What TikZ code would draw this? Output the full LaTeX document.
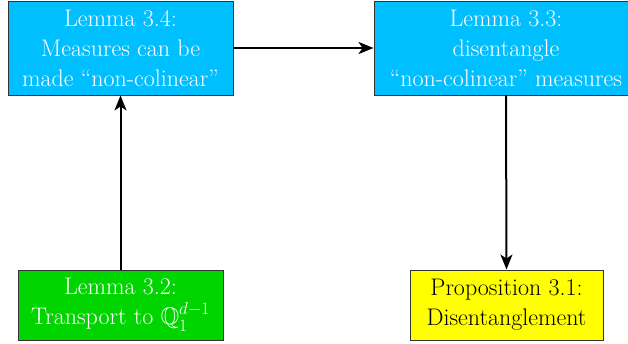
\documentclass[tikz,border=0pt]{standalone}
\usepackage{amssymb}
\usepackage{fontspec}
\usetikzlibrary{arrows.meta}
\definecolor{boxblue}{RGB}{0,191,255}
\definecolor{boxgreen}{RGB}{0,213,0}
\definecolor{boxyellow}{RGB}{255,255,0}
\begin{document}
\begin{tikzpicture}[x=1pt,y=-1pt,
  lembox/.style={draw=black!80, line width=0.9pt, rectangle, inner sep=0pt, align=center,
    font=\fontsize{24}{30}\selectfont},
  conn/.style={line width=2pt, -{Stealth[length=15pt,width=12pt,inset=4pt]}}]
\useasboundingbox (0,0) rectangle (628,343);
\begin{scope}
\clip (0,0) rectangle (628,343);
\node[lembox, fill=boxblue, text=white, minimum width=225pt, minimum height=94pt] (a) at (120.5,48) {Lemma 3.4:\\Measures can be\\made “non-colinear”};
\node[lembox, fill=boxblue, text=white, minimum width=264pt, minimum height=94pt] (b) at (506,48) {Lemma 3.3:\\disentangle\\“non-colinear” measures};
\node[lembox, fill=boxgreen, text=white, minimum width=205pt, minimum height=70pt] (c) at (120.5,305) {Lemma 3.2:\\Transport to $\mathbb{Q}_1^{d-1}$};
\node[lembox, fill=boxyellow, text=black, minimum width=193pt, minimum height=70pt] (d) at (506.5,305) {Proposition 3.1:\\Disentanglement};
\end{scope}
\draw[conn] (a.east) -- (b.west);
\draw[conn] (c.north) -- (a.south);
\draw[conn] (b.south) -- (d.north);
\end{tikzpicture}
\end{document}
